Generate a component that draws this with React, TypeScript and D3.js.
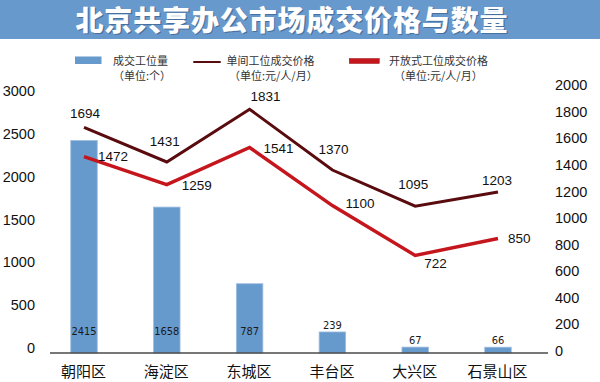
import React from 'react';
import * as d3 from 'd3';

const categories = ['朝阳区', '海淀区', '东城区', '丰台区', '大兴区', '石景山区'];
const volume = [2415, 1658, 787, 239, 67, 66];
const privatePrice = [1694, 1431, 1831, 1370, 1095, 1203];
const openPrice = [1472, 1259, 1541, 1100, 722, 850];
const leftTicks = [0, 500, 1000, 1500, 2000, 2500, 3000];
const rightTicks = [0, 200, 400, 600, 800, 1000, 1200, 1400, 1600, 1800, 2000];

// label offsets (dx, dy, anchor) for the line value labels
const privateLabelPos: [number, number, string][] = [
  [1, -14, 'middle'], [-2, -21, 'middle'], [16, -13, 'middle'], [1, -21, 'middle'], [-2, -22, 'middle'], [-1, -12, 'middle'],
];
const openLabelPos: [number, number, string][] = [
  [14, 0, 'start'], [15, 1, 'start'], [14, 1, 'start'], [13, -2, 'start'], [9, 8, 'start'], [10, 0, 'start'],
];

const W = 600;
const H = 382;
const NUM_FONT = '"Liberation Sans", Arial, sans-serif';
const CJK_FONT = '"Noto Sans CJK SC", "Noto Sans", sans-serif';

export default function App() {
  const x = d3.scalePoint<string>().domain(categories).range([84, 498]);
  const yBar = d3.scaleLinear().domain([0, 3000]).range([353, 89]);
  const yLeftLabel = d3.scaleLinear().domain([0, 3000]).range([348, 90.7]);
  const yLine = d3.scaleLinear().domain([0, 2000]).range([350.5, 87]);
  const yRightLabel = d3.scaleLinear().domain([0, 2000]).range([350.7, 85]);
  const barW = 26.5;

  const lineGen = (vals: number[]) =>
    d3.line<number>()
      .x((_, i) => x(categories[i]) as number)
      .y((d) => yLine(d))(vals) as string;

  const title = '北京共享办公市场成交价格与数量';
  const titleProps = {
    x: 291.5, y: 31, textAnchor: 'middle' as const, fontFamily: CJK_FONT, fontWeight: 900,
    fontSize: 28, textLength: 432, lengthAdjust: 'spacing' as const,
  };

  return (
    <svg width={W} height={H} style={{ position: 'absolute', left: 0, top: 0, background: '#fff' }}>
      {/* title band */}
      <rect x={0} y={0} width={W} height={39} fill="#6899cd" />
      <text {...titleProps} fill="#3d5f88" opacity={0.7} transform="translate(1.2,1.2)">{title}</text>
      <text {...titleProps} fill="#ffffff">{title}</text>

      {/* legend */}
      <rect x={75} y={56.5} width={26.5} height={7.5} fill="#6699cc" />
      <text x={113} y={65} fontFamily={CJK_FONT} fontSize={11} fill="#333">成交工位量</text>
      <text x={113} y={80} fontFamily={CJK_FONT} fontSize={11} fill="#333">（单位:个）</text>

      <line x1={193.3} x2={220.7} y1={62} y2={62} stroke="#5a0b0e" strokeWidth={2} />
      <text x={226.5} y={65} fontFamily={CJK_FONT} fontSize={11} fill="#333">单间工位成交价格</text>
      <text x={229} y={80} fontFamily={CJK_FONT} fontSize={11} fill="#333">（单位:元/人/月）</text>

      <rect x={349.3} y={58.5} width={30} height={5} fill="#c4161c" stroke="#9b1015" strokeWidth={0.5} />
      <text x={389} y={65} fontFamily={CJK_FONT} fontSize={11} fill="#333">开放式工位成交价格</text>
      <text x={394} y={80} fontFamily={CJK_FONT} fontSize={11} fill="#333">（单位:元/人/月）</text>

      {/* left axis labels */}
      {leftTicks.map((t) => (
        <text key={'l' + t} x={35} y={yLeftLabel(t)} dy="0.36em" textAnchor="end" fontFamily={NUM_FONT}
          fontSize={14.5} fill="#111">{t}</text>
      ))}
      {/* right axis labels */}
      {rightTicks.map((t) => (
        <text key={'r' + t} x={555} y={yRightLabel(t)} dy="0.36em" textAnchor="start" fontFamily={NUM_FONT}
          fontSize={14.5} fill="#111">{t}</text>
      ))}

      {/* bars */}
      {volume.map((v, i) => {
        const cx = x(categories[i]) as number;
        return (
          <rect key={'b' + i} x={cx - barW / 2} y={yBar(v)} width={barW} height={yBar(0) - yBar(v)}
            fill="#6699cc" stroke="#9dbde0" strokeWidth={0.8} />
        );
      })}
      {volume.map((v, i) => {
        const cx = x(categories[i]) as number;
        const inside = yBar(0) - yBar(v) > 30;
        const y = inside ? 331 : yBar(v) - 7;
        return (
          <text key={'bl' + i} x={cx} y={y} dy="0.36em" textAnchor="middle"
            fontFamily='"Liberation Sans Narrow", "Arial Narrow", "DejaVu Sans Condensed", sans-serif'
            fontSize={11} fill="#1a1a1a">{v}</text>
        );
      })}

      {/* axis line */}
      <line x1={50} x2={548} y1={353} y2={353} stroke="#4a4a4a" strokeWidth={1.5} />

      {/* lines */}
      <path d={lineGen(privatePrice)} fill="none" stroke="#5a0b0e" strokeWidth={3} strokeLinejoin="miter" />
      <path d={lineGen(openPrice)} fill="none" stroke="#c4161c" strokeWidth={3.5} strokeLinejoin="miter" />

      {privatePrice.map((v, i) => {
        const [dx, dy, anchor] = privateLabelPos[i];
        return (
          <text key={'pl' + i} x={(x(categories[i]) as number) + dx} y={yLine(v) + dy} dy="0.36em"
            textAnchor={anchor as any} fontFamily={NUM_FONT} fontSize={13.5} fill="#111">{v}</text>
        );
      })}
      {openPrice.map((v, i) => {
        const [dx, dy, anchor] = openLabelPos[i];
        return (
          <text key={'ol' + i} x={(x(categories[i]) as number) + dx} y={yLine(v) + dy} dy="0.36em"
            textAnchor={anchor as any} fontFamily={NUM_FONT} fontSize={13.5} fill="#111">{v}</text>
        );
      })}

      {/* category labels */}
      {categories.map((c) => (
        <text key={'c' + c} x={(x(c) as number) - 0.5} y={372} dy="0.36em" textAnchor="middle"
          fontFamily={CJK_FONT} fontSize={15} fill="#111">{c}</text>
      ))}
    </svg>
  );
}
